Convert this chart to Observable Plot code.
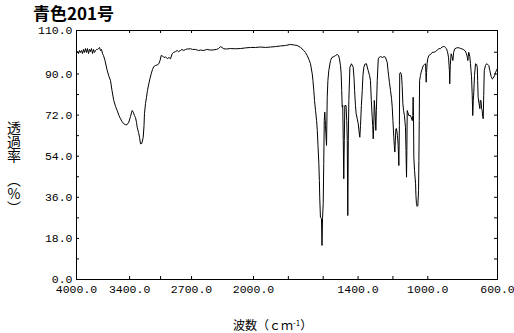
<!DOCTYPE html>
<html>
<head>
<meta charset="utf-8">
<script src="https://cdn.jsdelivr.net/npm/d3@7"></script>
<script src="https://cdn.jsdelivr.net/npm/@observablehq/plot@0.6"></script>
<style>
  html, body { margin: 0; padding: 0; background: #fff; }
  #wrap { position: relative; width: 514px; height: 333px; background: #fff; }
  #wrap svg { position: absolute; left: 0; top: 0; }
  .title { position: absolute; left: 33px; top: 4px; font-family: "Noto Sans CJK JP", sans-serif; font-weight: 700; font-size: 17px; line-height: 18px; color: #000; white-space: nowrap; z-index: 2; }
  .ylab { position: absolute; left: 7px; font-family: "Noto Sans CJK JP", sans-serif; font-size: 14px; line-height: 14px; writing-mode: vertical-rl; text-orientation: upright; color: #000; z-index: 2; }
  .xlab { position: absolute; left: 233px; top: 319px; font-family: "Noto Sans CJK JP", sans-serif; font-size: 12px; line-height: 12px; color: #000; white-space: nowrap; z-index: 2; }
  .xlab sup { font-size: 8px; vertical-align: 4px; line-height: 0; }
</style>
</head>
<body>
<div id="wrap">
  <div class="title">青色201号</div>
  <div class="ylab" style="top:121px">透過率</div>
  <div class="ylab" style="top:173px">（%）</div>
  <div class="xlab">波数（ｃｍ<sup>-1</sup>）</div>
</div>
<script>
const xLabelValues = [4000, 3400, 2700, 2000, 1400, 1000, 600];
const xLabels = ["4000.0", "3400.0", "2700.0", "2000.0", "1400.0", "1000.0", "600.0"];
const xTickValues = [3400, 3050, 2700, 2000, 1800, 1600, 1400, 1200, 1000];
const yLabelValues = [0, 18, 36, 54, 72, 90, 110];
const yLabels = ["0.0", "18.0", "36.0", "54.0", "72.0", "90.0", "110.0"];
const yTickValues = [0, 9, 18, 27, 36, 45, 54, 63, 72, 81, 90, 100, 110];

const wavenumber = [
4000,3989,3977,3966,3955,3944,3932,3921,3910,3898,3887,3876,3864,3853,3842,3831,3819,3808,3797,3785,
3774,3763,3751,3740,3729,3718,3706,3695,3678,3653,3633,3616,3599,3579,3559,3540,3520,3503,3486,3466,
3446,3429,3409,3390,3371,3356,3345,3333,3322,3314,3299,3288,3277,3262,3246,3237,3232,3220,3209,3198,
3183,3170,3156,3141,3127,3107,3090,3070,3056,3043,3028,3011,2994,2972,2955,2938,2919,2904,2881,2862,
2847,2825,2808,2788,2768,2746,2712,2689,2655,2621,2599,2561,2531,2486,2448,2418,2395,2373,2356,2336,
2305,2260,2203,2147,2090,2034,1989,1960,1931,1902,1874,1845,1816,1788,1765,1749,1730,1711,1702,1692,
1682,1673,1663,1659,1654,1650,1644,1638,1634,1630,1625,1622,1620,1616,1610,1607,1604,1600,1597,1594,
1591,1587,1581,1577,1573,1568,1558,1550,1539,1529,1520,1512,1507,1501,1497,1494,1491,1488,1485,1482,
1479,1476,1469,1465,1462,1459,1456,1453,1447,1438,1428,1423,1420,1415,1411,1405,1399,1395,1390,1386,
1381,1376,1372,1367,1360,1352,1342,1334,1329,1324,1319,1316,1313,1310,1307,1303,1298,1295,1290,1284,
1277,1271,1260,1251,1243,1233,1228,1224,1220,1214,1208,1204,1200,1195,1192,1189,1186,1183,1180,1174,
1170,1166,1163,1161,1157,1151,1147,1143,1139,1134,1128,1125,1122,1120,1118,1114,1109,1099,1089,1086,
1084,1082,1080,1076,1070,1068,1065,1061,1057,1053,1051,1049,1047,1042,1038,1026,1019,1013,1011,1009,
1007,1004,1000,994,984,975,965,956,946,937,927,918,912,904,898,893,887,881,876,874,
871,866,861,856,852,845,835,822,812,802,793,785,778,773,770,768,765,759,755,752,
749,745,742,739,736,732,726,720,716,714,711,706,701,699,695,691,688,685,682,679,
676,669,663,656,650,644,636,629,625,617,611,606,602,600
];
const transmittance = [
99.4,100.3,99.4,100.8,99.9,100.8,99.4,101.3,99.9,101.7,99.9,101.7,99.4,101.3,100.3,101.7,99.4,101.3,99.9,100.8,
101.3,101.3,101.7,102.2,100.8,101.3,99.4,98.5,96.2,91.6,88.9,87.2,82.8,78.4,75.8,74.0,71.8,70.4,69.2,68.2,
67.8,67.8,68.9,71.4,74.0,73.1,71.8,70.9,68.8,66.7,64.4,62.3,59.4,59.6,62.3,67.4,72.6,77.1,79.8,82.8,
85.7,88.0,90.1,92.1,93.4,93.9,94.1,94.7,96.2,98.5,98.3,97.6,97.8,97.1,97.6,97.0,99.3,99.9,100.3,100.8,
100.3,100.8,101.3,100.8,101.3,101.5,101.6,101.3,101.3,100.8,101.0,100.8,101.3,101.0,101.1,101.3,101.7,102.6,102.2,101.6,
101.5,101.7,101.6,101.7,102.0,102.2,102.2,102.4,102.2,102.4,102.6,102.9,103.1,103.6,103.3,103.1,102.2,100.8,99.9,98.5,
96.7,94.7,90.1,87.2,82.8,78.4,74.0,69.6,65.3,58.7,50.8,43.4,36.0,27.3,26.6,14.9,26.7,33.3,50.8,69.6,
73.3,67.4,58.7,79.8,87.2,91.6,96.2,97.6,98.0,98.5,99.0,98.5,97.0,93.9,90.1,82.8,75.5,76.2,60.9,44.1,
60.9,76.2,76.2,69.6,60.9,28.0,60.9,78.4,93.1,94.7,93.1,88.0,82.8,76.2,72.6,70.5,68.2,65.3,62.3,67.4,
76.2,82.8,89.3,93.1,94.6,94.7,91.6,89.3,87.2,78.4,71.1,67.4,61.6,67.4,78.4,74.0,65.3,74.0,87.2,97.0,
97.8,98.0,97.6,98.0,97.7,95.4,91.6,88.8,86.3,82.8,79.3,75.5,69.6,62.3,58.7,55.8,60.9,66.0,66.1,63.1,
58.7,49.9,67.4,90.1,90.7,89.7,84.9,77.0,74.0,71.8,66.7,56.5,44.8,56.5,74.0,73.1,71.8,71.8,69.6,71.8,
79.8,71.8,53.6,47.7,41.9,36.8,33.2,32.0,32.4,39.0,52.1,69.6,87.2,89.3,90.8,93.9,94.4,94.7,90.7,86.4,
90.7,94.8,97.1,98.5,99.0,99.9,100.0,100.3,101.0,101.6,101.7,102.4,102.6,102.6,102.2,101.6,100.3,97.7,91.6,85.7,
93.9,99.3,98.0,96.2,99.9,101.6,102.0,102.1,101.7,101.5,101.1,100.6,99.3,97.6,96.2,98.0,100.0,98.0,94.7,91.6,
88.8,80.7,71.8,78.4,82.0,89.3,94.7,94.4,93.1,87.2,79.8,77.1,74.8,78.4,78.4,74.9,74.0,71.4,70.4,80.6,
91.6,93.9,94.7,94.4,93.9,91.6,88.8,87.8,88.1,89.3,90.8,91.6,92.4,92.5
];

const spectrum = wavenumber.map((w, i) => ({w, t: transmittance[i]}));

const frameW = 497 - 76, frameH = 279 - 30, tick = 3;

const chart = Plot.plot({
  width: 514,
  height: 333,
  marginLeft: 76,
  marginRight: 17,
  marginTop: 30,
  marginBottom: 54,
  style: {fontFamily: "'Liberation Mono', monospace", fontSize: "11.5px", color: "#000", background: "transparent"},
  x: {
    type: "linear",
    domain: [4000, 2000, 600],
    range: [76, 253, 497],
    ticks: xLabelValues,
    tickFormat: d => xLabels[xLabelValues.indexOf(d)],
    tickSize: 0,
    tickPadding: 5,
    label: null
  },
  y: {
    type: "linear",
    domain: [0, 90, 110],
    range: [279, 73.5, 30],
    ticks: yLabelValues,
    tickFormat: d => yLabels[yLabelValues.indexOf(d)],
    tickSize: 0,
    tickPadding: 4,
    label: null
  },
  marks: [
    Plot.ruleX(xTickValues, {x: d => d, insetTop: frameH - tick, stroke: "#000"}),
    Plot.ruleX(xTickValues, {x: d => d, insetBottom: frameH - tick, stroke: "#000"}),
    Plot.ruleY(yTickValues, {y: d => d, insetRight: frameW - tick, stroke: "#000"}),
    Plot.ruleY(yTickValues, {y: d => d, insetLeft: frameW - tick, stroke: "#000"}),
    Plot.line(spectrum, {x: "w", y: "t", stroke: "#000", strokeWidth: 1}),
    Plot.frame({stroke: "#000"})
  ]
});

document.getElementById("wrap").prepend(chart);
</script>
</body>
</html>
